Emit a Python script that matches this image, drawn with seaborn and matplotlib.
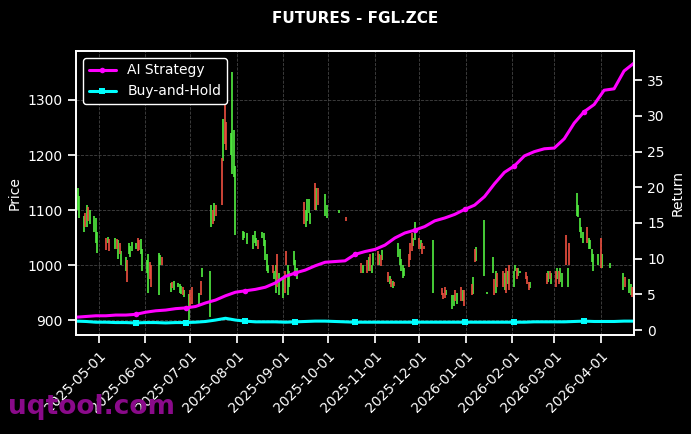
import numpy as np
import pandas as pd
import matplotlib
matplotlib.use("Agg")
import matplotlib.pyplot as plt
import matplotlib.dates as mdates
import seaborn as sns

nan = np.nan

# daily candle bodies, one row per week (trading days from 2025-04-16), nan = no bar
opens = [
    1120, 1100, 1085,
    1060, 1095, 1070, 1105, 1075,
    1060, 1040, 1022, nan, nan,
    nan, 1050, 1040, 1048, nan,
    1030, 1048, 1012, 1040, 1000,
    990, 1010, 1020, 1015, 1025,
    1030, 1050, 1045, 1020, 990,
    985, 950, 1005, 1000, nan,
    nan, 945, 1000, 1015, nan,
    nan, nan, 952, 970, 955,
    960, 950, 948, 960, 942,
    900, 955, 960, nan, nan,
    925, 972, 978, nan, nan,
    905, 1070, 1100, 1080, 1110,
    nan, 1195, 1190, 1295, 1260,
    1200, 1165, 1160, 1055, nan,
    nan, 1045, 1050, nan, 1038,
    nan, 1030, 1040, 1035, 1045,
    1050, 1035, 1010, 990, 985,
    1000, 975, 950, 1020, 945,
    940, 990, 1025, 945, 960,
    1000, 990, 975, nan, nan,
    1115, 1070, 1080, 1095, 1075,
    1150, 1100, 1140, nan, nan,
    1090, 1085, nan, nan, nan,
    nan, nan, 1095, nan, nan,
    1088, nan, nan, nan, nan,
    nan, nan, nan, 1003, 985,
    1010, 990, 1020, 985, 1000,
    1025, 1000, 1018, 1010, nan,
    987, 965, 975, 958, 970,
    1015, 1000, 990, 976, 980,
    1020, 1040, 1058, 1035, 1045,
    1050, 1030, 1040, 1035, nan,
    nan, nan, 950, nan, nan,
    nan, 958, 950, 960, 945,
    nan, 920, 925, 955, 930,
    960, 935, 955, nan, nan,
    965, 948, 1030, 1008, nan,
    nan, 980, nan, 948, nan,
    985, 975, 950, 985, nan,
    990, 955, 995, 965, 1000,
    960, 990, 995, 980, 985,
    nan, 987, 980, 970, 958,
    nan, nan, nan, nan, nan,
    nan, 985, 970, 990, 965,
    990, 975, 990, 970, 960,
    1055, 960, 1040, nan, nan,
    1090, 1087, 1060, 1050, 1040,
    1069, 1030, 1030, 1005, 990,
    1000, nan, 1050, 995, nan,
    nan, 995, nan, nan, nan,
    nan, nan, nan, 955, 978,
    950, 945, 960, 945,
]
closes = [
    1158, 1140, 1125,
    1090, 1070, 1110, 1080, 1100,
    1090, 1085, 1060, nan, nan,
    nan, 1028, 1052, 1025, nan,
    1050, 1030, 1045, 1020, 1025,
    1015, 970, 1040, 1035, 1042,
    1040, 1025, 1028, 1048, 1030,
    1010, 1020, 975, 960, nan,
    nan, 1022, 1018, 1000, nan,
    nan, nan, 968, 958, 972,
    967, 965, 962, 945, 955,
    948, 925, 930, nan, nan,
    950, 945, 995, nan, nan,
    990, 1110, 1075, 1112, 1090,
    nan, 1110, 1265, 1220, 1210,
    1240, 1350, 1245, 1180, nan,
    nan, 1062, 1060, nan, 1058,
    nan, 1055, 1062, 1050, 1030,
    1060, 1058, 1045, 1020, 1000,
    985, 990, 1000, 960, 985,
    975, 950, 1000, 1000, 990,
    1025, 1010, 995, nan, nan,
    1075, 1100, 1120, 1120, 1095,
    1100, 1140, 1110, nan, nan,
    1130, 1110, nan, nan, nan,
    nan, nan, 1100, nan, nan,
    1080, nan, nan, nan, nan,
    nan, nan, nan, 986, 1000,
    985, 1015, 990, 1000, 1022,
    1000, 1020, 998, 1027, nan,
    970, 980, 960, 972, 962,
    1040, 1030, 1012, 1000, 995,
    996, 1010, 1025, 1050, 1078,
    1030, 1045, 1020, 1030, nan,
    nan, nan, 1045, nan, nan,
    nan, 945, 938, 940, 955,
    nan, 945, 945, 935, 950,
    935, 955, 925, nan, nan,
    945, 978, 1005, 1033, nan,
    nan, 1082, nan, 952, nan,
    1015, 945, 990, 960, nan,
    960, 985, 950, 990, 955,
    990, 1000, 975, 995, 990,
    nan, 975, 965, 955, 970,
    nan, nan, nan, nan, nan,
    nan, 965, 990, 975, 985,
    960, 995, 965, 995, 985,
    1000, 995, 1000, nan, nan,
    1131, 1110, 1085, 1070, 1060,
    1040, 1050, 1045, 1030, 1020,
    1020, nan, 995, 1020, nan,
    nan, 1003, nan, nan, nan,
    nan, nan, nan, 985, 960,
    975, 965, 942, 960,
]

# cumulative return curves, sampled evenly over the period
ai_return = [1.8, 1.9, 2.0, 2.0, 2.1, 2.1, 2.2, 2.5, 2.7, 2.8, 3.0, 3.1, 3.3, 3.8, 4.2,
             4.8, 5.3, 5.5, 5.7, 6.0, 6.6, 7.5, 8.0, 8.4, 9.0, 9.5, 9.6, 9.7, 10.6, 11.0,
             11.3, 11.9, 12.9, 13.6, 14.0, 14.5, 15.3, 15.7, 16.2, 16.9, 17.5, 18.7, 20.5,
             22.1, 23.0, 24.4, 25.0, 25.4, 25.5, 26.8, 29.0, 30.6, 31.6, 33.6, 33.8, 36.3, 37.4]
bh_return = [1.25, 1.2, 1.1, 1.1, 1.05, 1.05, 1.0, 1.05, 1.05, 1.0,
             1.05, 1.05, 1.1, 1.2, 1.4, 1.65, 1.4, 1.25, 1.15, 1.15,
             1.15, 1.1, 1.15, 1.2, 1.25, 1.25, 1.2, 1.15, 1.1, 1.1,
             1.1, 1.1, 1.1, 1.1, 1.1, 1.1, 1.1, 1.1, 1.1, 1.1,
             1.1, 1.1, 1.1, 1.1, 1.1, 1.1, 1.15, 1.15, 1.15, 1.15,
             1.2, 1.25, 1.2, 1.2, 1.2, 1.25, 1.25]
marker_idx = [6, 11, 17, 22, 28, 34, 39, 44, 51]

dates = pd.bdate_range("2025-04-16", periods=len(closes))
line_dates = pd.date_range(dates[0], dates[-1], periods=len(ai_return))

sns.set_theme(style="ticks", rc={
    "figure.facecolor": "black", "axes.facecolor": "black", "savefig.facecolor": "black",
    "axes.edgecolor": "white", "axes.labelcolor": "white", "text.color": "white",
    "xtick.color": "white", "ytick.color": "white", "font.size": 10,
    "axes.labelsize": 10, "xtick.labelsize": 10, "ytick.labelsize": 10,
    "legend.fontsize": 10,
})
plt.rcParams["font.family"] = ["DejaVu Sans"]

fig = plt.figure(figsize=(6.91, 4.34), dpi=100)
ax = fig.add_axes([0.110, 0.228, 0.8075, 0.6545])

o = np.array(opens, dtype=float)
c = np.array(closes, dtype=float)
ok = ~np.isnan(o)
up = ok & (c >= o)
dn = ok & (c < o)
ax.vlines(dates[up], o[up], c[up], color="#52ee40", lw=1.2)
ax.vlines(dates[dn], o[dn], c[dn], color="#ee5040", lw=1.2)

ax.set_ylim(873, 1389)
ax.set_yticks([900, 1000, 1100, 1200, 1300])
ax.set_xlim(dates[0], dates[-1])
ax.xaxis.set_major_locator(mdates.MonthLocator())
ax.xaxis.set_major_formatter(mdates.DateFormatter("%Y-%m-%d"))
plt.setp(ax.get_xticklabels(), rotation=45, ha="right", rotation_mode="anchor")
ax.set_ylabel("Price")
ax.grid(True, color="#555555", linestyle="--", linewidth=0.6, alpha=0.8)
for s in ax.spines.values():
    s.set_color("white")

ax2 = ax.twinx()
sns.lineplot(x=line_dates, y=ai_return, ax=ax2, color="#ff00ff", lw=2.2,
             marker="o", markersize=4, markevery=marker_idx, markeredgewidth=0,
             label="AI Strategy")
sns.lineplot(x=line_dates, y=bh_return, ax=ax2, color="#00ffff", lw=2.2,
             marker="s", markersize=4, markevery=marker_idx, markeredgewidth=0,
             label="Buy-and-Hold")
ax2.set_ylim(-0.7, 39.1)
ax2.set_yticks(range(0, 40, 5))
ax2.set_ylabel("Return")
ax2.set_xlim(dates[0], dates[-1])
for s in ax2.spines.values():
    s.set_color("white")
leg = ax2.legend(loc="upper left", facecolor="black", edgecolor="white", framealpha=1)
for t in leg.get_texts():
    t.set_color("white")

fig.suptitle("FUTURES - FGL.ZCE", fontsize=11, fontweight="bold", color="white",
             x=0.514, y=0.975)
fig.text(0.012, 0.045, "uqtool.com", fontsize=19, fontweight="bold", color="#8a0a8a")

fig.savefig("out.png", dpi=100)
